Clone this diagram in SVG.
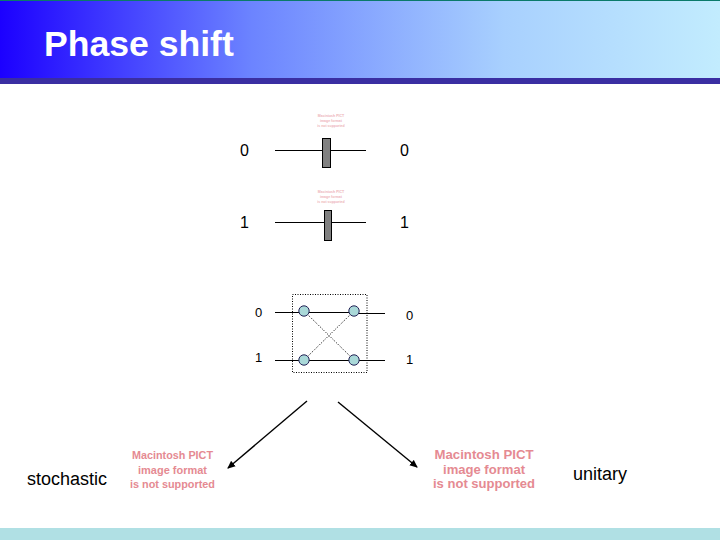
<svg xmlns="http://www.w3.org/2000/svg" width="720" height="540" viewBox="0 0 720 540">
<style>
.lbl{font-family:"Liberation Sans",Arial,sans-serif;fill:#000}
.pict{font-family:"Liberation Sans",Arial,sans-serif;font-weight:bold;fill:#e58a92;text-anchor:middle}
.tiny{opacity:.65}
.wire{stroke:#000;stroke-width:1.2;fill:none}
.bar{fill:#808080;stroke:#000;stroke-width:1}
.q{fill:#a9d8d8;stroke:#225;stroke-width:1}
.dot{stroke:#000;stroke-width:1;stroke-dasharray:1 1.5;fill:none}
</style>
<defs>
<linearGradient id="hdr" x1="0" x2="1" y1="0" y2="0">
<stop offset="0" stop-color="#1c00ff"/><stop offset="0.35" stop-color="#6c84ff"/><stop offset="0.7" stop-color="#a8d0fe"/><stop offset="1" stop-color="#c2ecfe"/>
</linearGradient>
<marker id="arr" markerWidth="8" markerHeight="8" refX="7" refY="4" orient="auto" markerUnits="userSpaceOnUse">
<path d="M0 0.5L8 4L0 7.5Z" fill="#000"/>
</marker>
</defs>
<rect width="720" height="540" fill="#fff"/>
<g id="header">
<rect width="720" height="79" fill="url(#hdr)"/>
<rect width="720" height="1" fill="#0a7a6a"/>
<rect y="78" width="720" height="6" fill="#3a2ea2"/>
<text x="44" y="55.500" font-family="'Liberation Sans',Arial,sans-serif" font-weight="bold" font-size="35.600" fill="#fff">Phase shift</text>
</g>
<rect id="footer" y="528" width="720" height="12" fill="#b0e0e4"/>
<g id="connectors">
<path class="wire" d="M275 150.500H366M275 222.500H366"/>
<path class="wire" d="M275 312.500H354M354 313.500H385M275 360.500H385"/>
<path class="dot" d="M304 311L354 360M354 311L304 360"/>
<path d="M307 401L228 468" stroke="#000" stroke-width="1.4" fill="none" marker-end="url(#arr)"/>
<path d="M338 402L417 467" stroke="#000" stroke-width="1.4" fill="none" marker-end="url(#arr)"/>
</g>
<g id="gate-top"><rect class="bar" x="322.500" y="138.500" width="8" height="29"/></g>
<g id="gate-bottom"><rect class="bar" x="324.500" y="210.500" width="7" height="30"/></g>
<g id="box"><rect class="dot" x="292.500" y="294.500" width="74.500" height="78"/></g>
<g id="q1"><circle class="q" cx="304" cy="311" r="5.200"/></g>
<g id="q2"><circle class="q" cx="354" cy="311" r="5.200"/></g>
<g id="q3"><circle class="q" cx="304" cy="360" r="5.200"/></g>
<g id="q4"><circle class="q" cx="354" cy="360" r="5.200"/></g>
<g id="labels">
<text class="lbl" x="240" y="156" font-size="16">0</text>
<text class="lbl" x="400" y="156" font-size="16">0</text>
<text class="lbl" x="240" y="228" font-size="16">1</text>
<text class="lbl" x="400" y="228" font-size="16">1</text>
<text class="lbl" x="255" y="317" font-size="13">0</text>
<text class="lbl" x="406" y="320" font-size="13">0</text>
<text class="lbl" x="255" y="362" font-size="13">1</text>
<text class="lbl" x="406" y="364" font-size="13">1</text>
<text class="lbl" x="27" y="485" font-size="18">stochastic</text>
<text class="lbl" x="573" y="480" font-size="18">unitary</text>
</g>
<g id="pict-small-1" class="tiny">
<text class="pict" x="331" y="117" font-size="3.500">Macintosh PICT</text>
<text class="pict" x="331" y="122" font-size="3.500">image format</text>
<text class="pict" x="331" y="127" font-size="3.500">is not supported</text>
</g>
<g id="pict-small-2" class="tiny">
<text class="pict" x="331" y="193" font-size="3.500">Macintosh PICT</text>
<text class="pict" x="331" y="198" font-size="3.500">image format</text>
<text class="pict" x="331" y="203" font-size="3.500">is not supported</text>
</g>
<g id="pict-left">
<text class="pict" x="172.500" y="459" font-size="11.500" textLength="81" lengthAdjust="spacingAndGlyphs">Macintosh PICT</text>
<text class="pict" x="172.500" y="474" font-size="11.500" textLength="69" lengthAdjust="spacingAndGlyphs">image format</text>
<text class="pict" x="172.500" y="488" font-size="11.500" textLength="85" lengthAdjust="spacingAndGlyphs">is not supported</text>
</g>
<g id="pict-right">
<text class="pict" x="484" y="459" font-size="12.800" textLength="99" lengthAdjust="spacingAndGlyphs">Macintosh PICT</text>
<text class="pict" x="484" y="474" font-size="12.800" textLength="82" lengthAdjust="spacingAndGlyphs">image format</text>
<text class="pict" x="484" y="488" font-size="12.800" textLength="102" lengthAdjust="spacingAndGlyphs">is not supported</text>
</g>
</svg>
